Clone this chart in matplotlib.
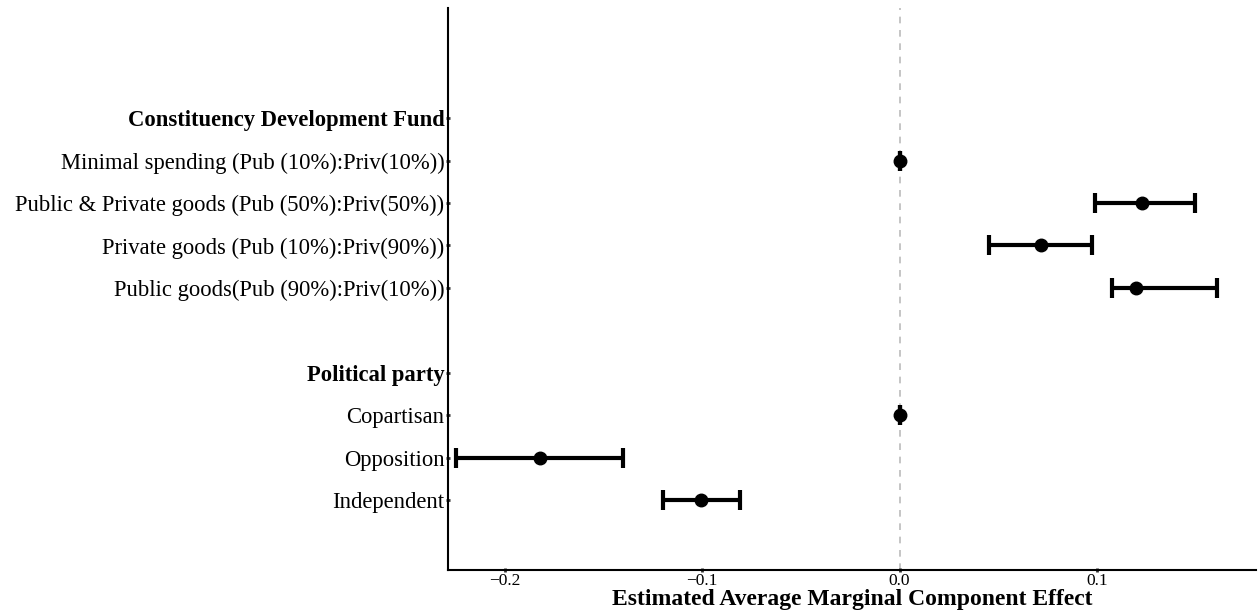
import matplotlib
matplotlib.use("Agg")
import matplotlib.pyplot as plt

# AMCE estimates with 95% confidence intervals
labels = [
    "Constituency Development Fund",
    "Minimal spending (Pub (10%):Priv(10%))",
    "Public & Private goods (Pub (50%):Priv(50%))",
    "Private goods (Pub (10%):Priv(90%))",
    "Public goods(Pub (90%):Priv(10%))",
    "",
    "Political party",
    "Copartisan",
    "Opposition",
    "Independent",
]
is_header = [True, False, False, False, False, False, True, False, False, False]
estimates = [None, 0.0, 0.123, 0.0717, 0.120, None, None, 0.0, -0.1823, -0.1005]
lower = [None, 0.0, 0.099, 0.0455, 0.1076, None, None, 0.0, -0.2247, -0.120]
upper = [None, 0.0, 0.1495, 0.0975, 0.161, None, None, 0.0, -0.140, -0.081]
xticks = [-0.2, -0.1, 0.0, 0.1]
xtick_labels = ["\u22120.2", "\u22120.1", "0.0", "0.1"]

plt.rcParams["font.family"] = ["Liberation Serif", "DejaVu Serif"]

fig = plt.figure(figsize=(12.59, 6.14), dpi=100)
ax = fig.add_axes([448 / 1259, 44 / 614, 1 - 448 / 1259 - 0.002, (570 - 8) / 614])

ax.axvline(0, color="#bbbbbb", linestyle=(0, (4, 4)), linewidth=1.2, zorder=1)

for i, (est, lo, hi) in enumerate(zip(estimates, lower, upper)):
    if est is None:
        continue
    ax.errorbar(est, i, xerr=[[est - lo], [hi - est]], fmt="o", color="black",
                ecolor="black", elinewidth=3, capsize=7.5, capthick=3,
                markersize=9, zorder=3)

ax.set_xlim(-0.2288, 0.1808)
ax.set_ylim(10.64, -2.59)

shown = [i for i, lab in enumerate(labels) if lab]
ax.set_yticks(shown)
ax.set_yticklabels([labels[i] for i in shown], fontsize=16.3)
for t, i in zip(ax.get_yticklabels(), shown):
    if is_header[i]:
        t.set_fontweight("bold")

ax.set_xticks(xticks)
ax.set_xticklabels(xtick_labels, fontsize=12.5)
ax.set_xlabel("Estimated Average Marginal Component Effect", fontsize=17,
              fontweight="bold", labelpad=0)

ax.tick_params(axis="y", length=3, width=2, color="#333333", pad=1, direction="inout")
ax.tick_params(axis="x", length=3, width=2, color="#333333", pad=1, direction="inout")

for side in ("top", "right"):
    ax.spines[side].set_visible(False)
for side in ("left", "bottom"):
    ax.spines[side].set_linewidth(1.5)
    ax.spines[side].set_color("black")

fig.savefig("out.png", dpi=100)
